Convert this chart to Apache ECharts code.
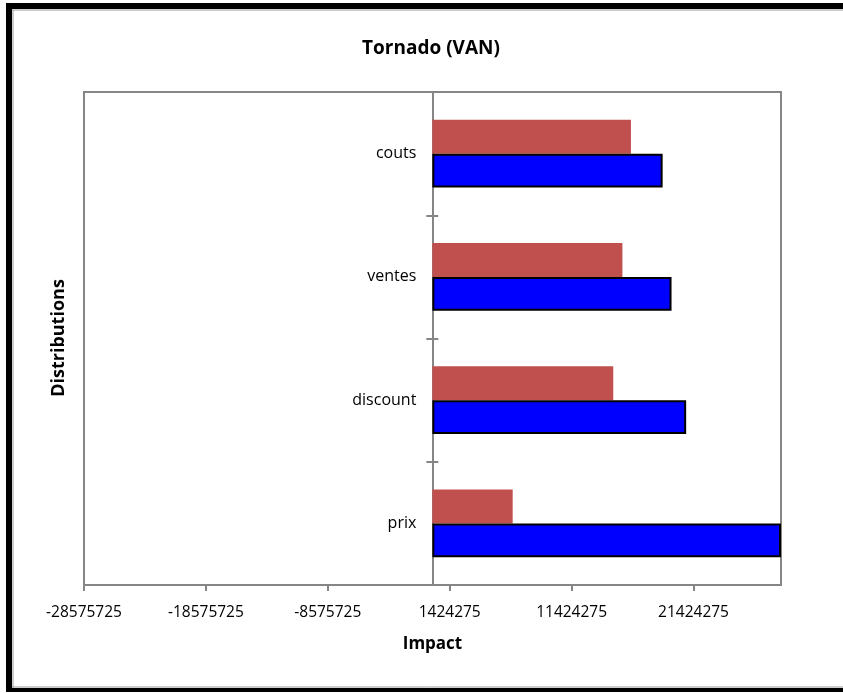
<!DOCTYPE html>
<html>
<head>
<meta charset="utf-8">
<title>Tornado (VAN)</title>
<script src="https://cdn.jsdelivr.net/npm/echarts@6/dist/echarts.min.js"></script>
<style>
  html, body { margin: 0; padding: 0; background: #fff; }
  #chart { width: 843px; height: 693px; }
</style>
</head>
<body>
<div id="chart"></div>
<script>
// Input distributions, bottom to top
const categories = ['prix', 'discount', 'ventes', 'couts'];
// Impact on VAN for the low and high end of each distribution
const lowImpact = [6590000, 14840000, 15590000, 16290000];
const highImpact = [28600000, 20820000, 19620000, 18890000];
// Value axis ticks start at -28575725 and step by 10 000 000
const axisMin = -28575725;
const axisMax = 28600000;
const axisStep = 10000000;

const FONT = '"Open Sans", Lato, sans-serif';
const GREY = '#868686';

// plot area
const GRID = { left: 84, right: 62, top: 92, bottom: 108 };
const W = 843;
const gridWidth = W - GRID.left - GRID.right;
// the category axis sits on the zero line of the value axis
const zeroOffset = (0 - axisMin) / (axisMax - axisMin) * gridWidth;

const chart = echarts.init(document.getElementById('chart'), null, { renderer: 'canvas' });

chart.setOption({
  animation: false,
  backgroundColor: '#ffffff',
  title: {
    text: 'Tornado (VAN)',
    left: 426,
    top: 34,
    textAlign: 'center',
    textStyle: { fontFamily: FONT, fontSize: 19, fontWeight: 'bold', color: '#000' }
  },
  grid: Object.assign({
    show: true, borderColor: GREY, borderWidth: 2, backgroundColor: '#fff'
  }, GRID),
  xAxis: {
    type: 'value',
    min: axisMin,
    max: axisMax,
    interval: axisStep,
    name: 'Impact',
    nameLocation: 'middle',
    nameGap: 51,
    nameTextStyle: { fontFamily: FONT, fontSize: 17, fontWeight: 'bold', color: '#000' },
    axisLine: { show: true, onZero: false, lineStyle: { color: GREY, width: 2 } },
    axisTick: { show: true, length: 6, lineStyle: { color: GREY, width: 2 } },
    axisLabel: {
      showMaxLabel: false,
      margin: 20,
      fontFamily: FONT, fontSize: 15.5, color: '#000',
      formatter: v => String(Math.round(v))
    },
    splitLine: { show: false }
  },
  yAxis: [
    {
      type: 'category',
      data: categories,
      position: 'left',
      offset: -zeroOffset,
      axisLine: { show: true, onZero: false, lineStyle: { color: GREY, width: 2 } },
      axisTick: { show: true, length: 6, lineStyle: { color: GREY, width: 2 } },
      axisLabel: { margin: 16, fontFamily: FONT, fontSize: 16, color: '#000' },
      splitLine: { show: false }
    },
    {
      // mirror ticks on the other side of the zero line
      type: 'category',
      data: categories,
      position: 'right',
      offset: -(gridWidth - zeroOffset),
      axisLine: { show: false, onZero: false },
      axisTick: { show: true, length: 6, lineStyle: { color: GREY, width: 2 } },
      axisLabel: { show: false },
      splitLine: { show: false }
    }
  ],
  series: [
    {
      name: 'low',
      type: 'bar',
      yAxisIndex: 0,
      data: lowImpact,
      barGap: '0%',
      barCategoryGap: '45%',
      itemStyle: { color: '#C0504D' }
    },
    {
      name: 'high',
      type: 'bar',
      yAxisIndex: 0,
      data: highImpact,
      itemStyle: { color: '#0000ff', borderColor: '#000', borderWidth: 2 }
    }
  ],
  graphic: [
    {
      type: 'text',
      x: 59, y: 338,
      rotation: Math.PI / 2,
      style: {
        text: 'Distributions',
        fontFamily: FONT, fontSize: 18, fontWeight: 'bold', fill: '#000',
        align: 'center', verticalAlign: 'middle'
      }
    },
    // outer frame
    { type: 'line', shape: { x1: 6, y1: 6, x2: 843, y2: 6 }, style: { stroke: '#000', lineWidth: 6 } },
    { type: 'line', shape: { x1: 9, y1: 3, x2: 9, y2: 692 }, style: { stroke: '#000', lineWidth: 6 } },
    { type: 'line', shape: { x1: 6, y1: 690, x2: 843, y2: 690 }, style: { stroke: '#000', lineWidth: 4 } },
    { type: 'line', shape: { x1: 12, y1: 10, x2: 843, y2: 10 }, style: { stroke: '#9a9a9a', lineWidth: 1 } },
    { type: 'line', shape: { x1: 13, y1: 10, x2: 13, y2: 688 }, style: { stroke: '#9a9a9a', lineWidth: 1 } },
    { type: 'line', shape: { x1: 12, y1: 687, x2: 843, y2: 687 }, style: { stroke: '#9a9a9a', lineWidth: 1 } }
  ]
});
</script>
</body>
</html>
